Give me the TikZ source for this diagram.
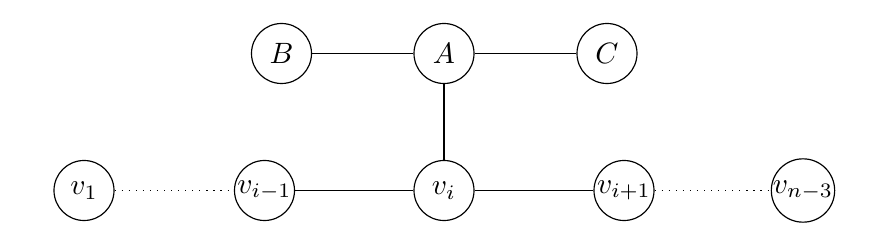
\documentclass[tikz,border=0pt]{standalone}
\begin{document}
\begin{tikzpicture}[x=0.34pt,y=-0.34pt,
  vtx/.style={circle,draw,inner sep=0pt,minimum size=20.4pt}]
\useasboundingbox (0,0) rectangle (888,235);
\node[vtx] (B) at (281.5,53.5) {$B$};
\node[vtx] (A) at (444,53.5) {$A$};
\node[vtx] (C) at (607,53.5) {$C$};
\node[vtx] (v1) at (84,190.5) {$v_1$};
\node[vtx] (vim) at (264.5,190.5) {$v_{i-1}$};
\node[vtx] (vi) at (444,190.5) {$v_i$};
\node[vtx] (vip) at (624,190.5) {$v_{i+1}$};
\node[vtx] (vn) at (803,190.5) {$v_{n-3}$};
\draw (B) -- (A);
\draw (A) -- (C);
\draw (A) -- (vi);
\draw (vim) -- (vi);
\draw (vi) -- (vip);
\draw[dotted] (v1) -- (vim);
\draw[dotted] (vip) -- (vn);
\end{tikzpicture}
\end{document}
